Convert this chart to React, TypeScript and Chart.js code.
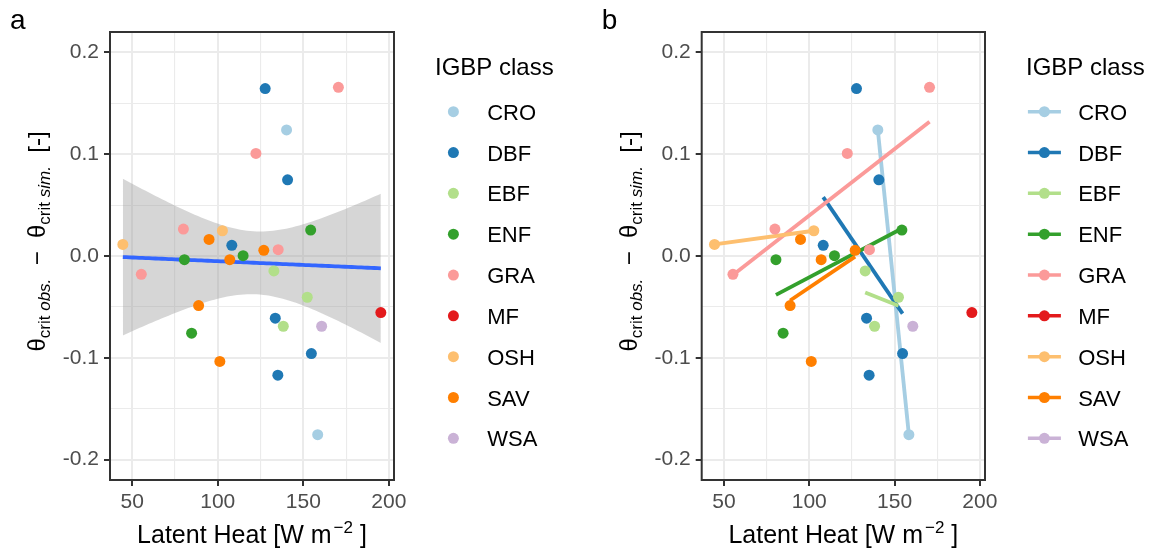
import React, { useEffect, useRef } from 'react';
import { Chart, registerables } from 'chart.js';

Chart.register(...registerables);

const FONT = "'Liberation Sans', Arial, Helvetica, sans-serif";

// ---- data ----
const classes = ['CRO', 'DBF', 'EBF', 'ENF', 'GRA', 'MF', 'OSH', 'SAV', 'WSA'];
const classColors = ['#A6CEE3', '#1F78B4', '#B2DF8A', '#33A02C', '#FB9A99', '#E31A1C', '#FDBF6F', '#FF7F00', '#CAB2D6'];

const croLatentHeat = [140.2, 158.4];
const croThetaDiff = [0.1238, -0.1755];
const dbfLatentHeat = [127.7, 140.8, 108.2, 133.6, 154.7, 135.1];
const dbfThetaDiff = [0.1644, 0.0748, 0.0105, -0.0611, -0.0958, -0.117];
const ebfLatentHeat = [132.8, 152.3, 138.3];
const ebfThetaDiff = [-0.0147, -0.0405, -0.069];
const enfLatentHeat = [154.3, 114.8, 80.5, 84.7];
const enfThetaDiff = [0.0255, 0.0003, -0.0036, -0.0758];
const graLatentHeat = [170.5, 122.3, 79.9, 135.3, 55.3];
const graThetaDiff = [0.1657, 0.1007, 0.0265, 0.0062, -0.018];
const mfLatentHeat = [195.3];
const mfThetaDiff = [-0.0556];
const oshLatentHeat = [44.5, 102.7];
const oshThetaDiff = [0.0114, 0.0248];
const savLatentHeat = [94.9, 126.9, 107.0, 88.8, 101.2];
const savThetaDiff = [0.0163, 0.0056, -0.0036, -0.0487, -0.1036];
const wsaLatentHeat = [160.7];
const wsaThetaDiff = [-0.069];

const latentHeatByClass = [croLatentHeat, dbfLatentHeat, ebfLatentHeat, enfLatentHeat, graLatentHeat, mfLatentHeat, oshLatentHeat, savLatentHeat, wsaLatentHeat];
const thetaDiffByClass = [croThetaDiff, dbfThetaDiff, ebfThetaDiff, enfThetaDiff, graThetaDiff, mfThetaDiff, oshThetaDiff, savThetaDiff, wsaThetaDiff];

const xTickValues = [50, 75, 100, 125, 150, 175, 200];
const xTickLabels = ['50', '', '100', '', '150', '', '200'];
const yTickValues = [-0.2, -0.15, -0.1, -0.05, 0, 0.05, 0.1, 0.15, 0.2];
const yTickLabels = ['-0.2', '', '-0.1', '', '0.0', '', '0.1', '', '0.2'];
const xLimits = [37, 203];
const yLimits = [-0.22, 0.22];
const panelTags = ['a', 'b'];
const legendTitle = 'IGBP class';
const T975 = 2.0518; // t quantile, 95% CI, df = n - 2 = 27

// ---- linear model (as geom_smooth(method = "lm")) ----
function fitLine(xs: number[], ys: number[]) {
  const n = xs.length;
  const mx = xs.reduce((a, b) => a + b, 0) / n;
  const my = ys.reduce((a, b) => a + b, 0) / n;
  let sxx = 0, sxy = 0;
  for (let i = 0; i < n; i++) {
    sxx += (xs[i] - mx) ** 2;
    sxy += (xs[i] - mx) * (ys[i] - my);
  }
  const slope = sxy / sxx;
  const intercept = my - slope * mx;
  let rss = 0;
  for (let i = 0; i < n; i++) rss += (ys[i] - intercept - slope * xs[i]) ** 2;
  return { n, mx, sxx, slope, intercept, s2: n > 2 ? rss / (n - 2) : 0 };
}

function drawYTitle(ctx: CanvasRenderingContext2D, xBase: number, yCenter: number) {
  const big = `24px ${FONT}`, sub = `17px ${FONT}`, subIt = `italic 17px ${FONT}`;
  const parts = [
    { t: 'θ', f: big, d: 0 },
    { t: 'crit ', f: sub, d: 5 },
    { t: 'obs.', f: subIt, d: 5 },
    { t: '  −  ', f: big, d: 0 },
    { t: 'θ', f: big, d: 0 },
    { t: 'crit ', f: sub, d: 5 },
    { t: 'sim.', f: subIt, d: 5 },
    { t: '  [-]', f: big, d: 0 },
  ];
  let total = 0;
  const widths = parts.map((p) => {
    ctx.font = p.f;
    const w = ctx.measureText(p.t).width;
    total += w;
    return w;
  });
  ctx.save();
  ctx.translate(xBase, yCenter);
  ctx.rotate(-Math.PI / 2);
  ctx.fillStyle = '#000000';
  ctx.textAlign = 'left';
  ctx.textBaseline = 'alphabetic';
  let cx = -total / 2;
  parts.forEach((p, i) => {
    ctx.font = p.f;
    ctx.fillText(p.t, cx, p.d);
    cx += widths[i];
  });
  ctx.restore();
}

function drawXTitle(ctx: CanvasRenderingContext2D, xCenter: number, baseline: number) {
  const big = `25px ${FONT}`, sup = `17px ${FONT}`;
  const parts = [
    { t: 'Latent Heat [W m', f: big, d: 0, gap: 2 },
    { t: '−2', f: sup, d: -10, gap: 0 },
    { t: ' ]', f: big, d: 0, gap: 0 },
  ];
  let total = 0;
  const widths = parts.map((p) => {
    ctx.font = p.f;
    const w = ctx.measureText(p.t).width + p.gap;
    total += w;
    return w;
  });
  ctx.fillStyle = '#000000';
  ctx.textAlign = 'left';
  ctx.textBaseline = 'alphabetic';
  let cx = xCenter - total / 2;
  parts.forEach((p, i) => {
    ctx.font = p.f;
    ctx.fillText(p.t, cx, baseline + p.d);
    cx += widths[i];
  });
}

function drawLegend(ctx: CanvasRenderingContext2D, x0: number, withLine: boolean) {
  ctx.fillStyle = '#000000';
  ctx.textAlign = 'left';
  ctx.textBaseline = 'alphabetic';
  ctx.font = `24px ${FONT}`;
  ctx.fillText(legendTitle, x0, 75);
  classes.forEach((c, i) => {
    const cy = 111.7 + i * 40.83;
    const kx = x0 + 18.4;
    if (withLine) {
      ctx.strokeStyle = classColors[i];
      ctx.lineWidth = 3.5;
      ctx.lineCap = 'butt';
      ctx.beginPath();
      ctx.moveTo(kx - 16.5, cy);
      ctx.lineTo(kx + 16.5, cy);
      ctx.stroke();
    }
    ctx.fillStyle = classColors[i];
    ctx.beginPath();
    ctx.arc(kx, cy, 5.5, 0, Math.PI * 2);
    ctx.fill();
    ctx.fillStyle = '#000000';
    ctx.font = `22px ${FONT}`;
    ctx.fillText(c, x0 + 52.2, cy + 8);
  });
}

function buildConfig(panel: number): any {
  const yAxisWidth = panel === 0 ? 110 : 123.7;
  const padRight = panel === 0 ? 184 : 171;
  const legendX = panel === 0 ? 435 : 448;
  const tagX = panel === 0 ? 10 : 23.7;

  const pointSets = classes.map((c, i) => ({
    label: c,
    data: latentHeatByClass[i].map((x, j) => ({ x, y: thetaDiffByClass[i][j] })),
    pointRadius: 5.5,
    pointHoverRadius: 5.5,
    pointBorderWidth: 0,
    pointBackgroundColor: classColors[i],
    borderColor: classColors[i],
    showLine: false,
  }));

  const datasets: any[] = [...pointSets];

  if (panel === 0) {
    const allX = latentHeatByClass.flat();
    const allY = thetaDiffByClass.flat();
    const fit = fitLine(allX, allY);
    const xMin = Math.min(...allX);
    const xMax = Math.max(...allX);
    const nGrid = 80;
    const upper: { x: number; y: number }[] = [];
    const lower: { x: number; y: number }[] = [];
    const mid: { x: number; y: number }[] = [];
    for (let k = 0; k < nGrid; k++) {
      const x = xMin + ((xMax - xMin) * k) / (nGrid - 1);
      const yhat = fit.intercept + fit.slope * x;
      const se = Math.sqrt(fit.s2 * (1 / fit.n + (x - fit.mx) ** 2 / fit.sxx));
      upper.push({ x, y: yhat + T975 * se });
      lower.push({ x, y: yhat - T975 * se });
      mid.push({ x, y: yhat });
    }
    datasets.push({
      label: 'fit',
      data: mid,
      showLine: true,
      borderColor: '#3366FF',
      borderWidth: 3.8,
      pointRadius: 0,
      fill: false,
    });
    datasets.push({
      label: 'ci-upper',
      data: upper,
      showLine: true,
      borderColor: 'rgba(0,0,0,0)',
      borderWidth: 1,
      pointRadius: 0,
      backgroundColor: 'rgba(153,153,153,0.4)',
      fill: '+1',
    });
    datasets.push({
      label: 'ci-lower',
      data: lower,
      showLine: true,
      borderColor: 'rgba(0,0,0,0)',
      borderWidth: 1,
      pointRadius: 0,
      fill: false,
    });
  } else {
    for (let i = classes.length - 1; i >= 0; i--) {
      const xs = latentHeatByClass[i];
      if (xs.length < 2) continue;
      const fit = fitLine(xs, thetaDiffByClass[i]);
      const x0 = Math.min(...xs);
      const x1 = Math.max(...xs);
      datasets.push({
        label: classes[i] + '-fit',
        data: [
          { x: x0, y: fit.intercept + fit.slope * x0 },
          { x: x1, y: fit.intercept + fit.slope * x1 },
        ],
        showLine: true,
        borderColor: classColors[i],
        borderWidth: 3.8,
        borderCapStyle: 'butt',
        pointRadius: 0,
        fill: false,
      });
    }
  }

  const isMajorX = (v: number) => xTickLabels[xTickValues.indexOf(v)] !== '';
  const yIndex = (v: number) => yTickValues.findIndex((t) => Math.abs(t - v) < 1e-9);
  const isMajorY = (v: number) => yTickLabels[yIndex(v)] !== '';

  const decor = {
    id: 'decor' + panel,
    afterDraw(chart: any) {
      const { ctx, chartArea: a } = chart;
      ctx.save();
      ctx.strokeStyle = '#333333';
      ctx.lineWidth = 2;
      ctx.strokeRect(a.left, a.top, a.right - a.left, a.bottom - a.top);
      ctx.fillStyle = '#000000';
      ctx.font = `28px ${FONT}`;
      ctx.textAlign = 'left';
      ctx.textBaseline = 'alphabetic';
      ctx.fillText(panelTags[panel], tagX, 29);
      drawXTitle(ctx, (a.left + a.right) / 2, 543);
      drawYTitle(ctx, a.left - 65, 241.5);
      drawLegend(ctx, legendX, panel === 1);
      ctx.restore();
    },
  };

  return {
    type: 'scatter',
    data: { datasets },
    plugins: [decor],
    options: {
      responsive: false,
      maintainAspectRatio: false,
      devicePixelRatio: 1,
      animation: false,
      events: [],
      layout: { padding: { left: 0, right: padRight, top: 32, bottom: 0 } },
      plugins: {
        legend: { display: false },
        tooltip: { enabled: false },
        title: { display: false },
      },
      scales: {
        x: {
          type: 'linear',
          min: xLimits[0],
          max: xLimits[1],
          afterBuildTicks: (s: any) => {
            s.ticks = xTickValues.map((v) => ({ value: v }));
          },
          afterFit: (s: any) => {
            s.height = 76;
          },
          ticks: {
            autoSkip: false,
            maxRotation: 0,
            padding: 4,
            color: '#4D4D4D',
            font: { family: FONT, size: 21 },
            callback: (v: number) => xTickLabels[xTickValues.indexOf(v)] ?? '',
          },
          grid: {
            color: '#EBEBEB',
            lineWidth: (c: any) => (c.tick && isMajorX(c.tick.value) ? 2 : 1.1),
            drawTicks: true,
            tickLength: 6,
            tickWidth: 2,
            tickColor: (c: any) => (c.tick && isMajorX(c.tick.value) ? '#333333' : 'rgba(0,0,0,0)'),
          },
          border: { display: false },
          title: { display: false },
        },
        y: {
          type: 'linear',
          min: yLimits[0],
          max: yLimits[1],
          afterBuildTicks: (s: any) => {
            s.ticks = yTickValues.map((v) => ({ value: v }));
          },
          afterFit: (s: any) => {
            s.width = yAxisWidth;
          },
          ticks: {
            autoSkip: false,
            padding: 5,
            color: '#4D4D4D',
            font: { family: FONT, size: 21 },
            callback: (v: number) => yTickLabels[yIndex(v)] ?? '',
          },
          grid: {
            color: '#EBEBEB',
            lineWidth: (c: any) => (c.tick && isMajorY(c.tick.value) ? 2 : 1.1),
            drawTicks: true,
            tickLength: 6,
            tickWidth: 2,
            tickColor: (c: any) => (c.tick && isMajorY(c.tick.value) ? '#333333' : 'rgba(0,0,0,0)'),
          },
          border: { display: false },
          title: { display: false },
        },
      },
    },
  };
}

function Panel({ panel, left }: { panel: number; left: number }) {
  const ref = useRef<HTMLCanvasElement>(null);
  useEffect(() => {
    if (!ref.current) return;
    const chart = new Chart(ref.current, buildConfig(panel));
    return () => chart.destroy();
  }, [panel]);
  return (
    <canvas
      ref={ref}
      width={578}
      height={556}
      style={{ position: 'absolute', left, top: 0, width: 578, height: 556, display: 'block' }}
    />
  );
}

export default function App() {
  useEffect(() => {
    document.body.style.margin = '0';
    document.body.style.background = '#ffffff';
  }, []);
  return (
    <div style={{ position: 'fixed', left: 0, top: 0, width: 1156, height: 556, background: '#ffffff', overflow: 'hidden' }}>
      <Panel panel={0} left={0} />
      <Panel panel={1} left={578} />
    </div>
  );
}
